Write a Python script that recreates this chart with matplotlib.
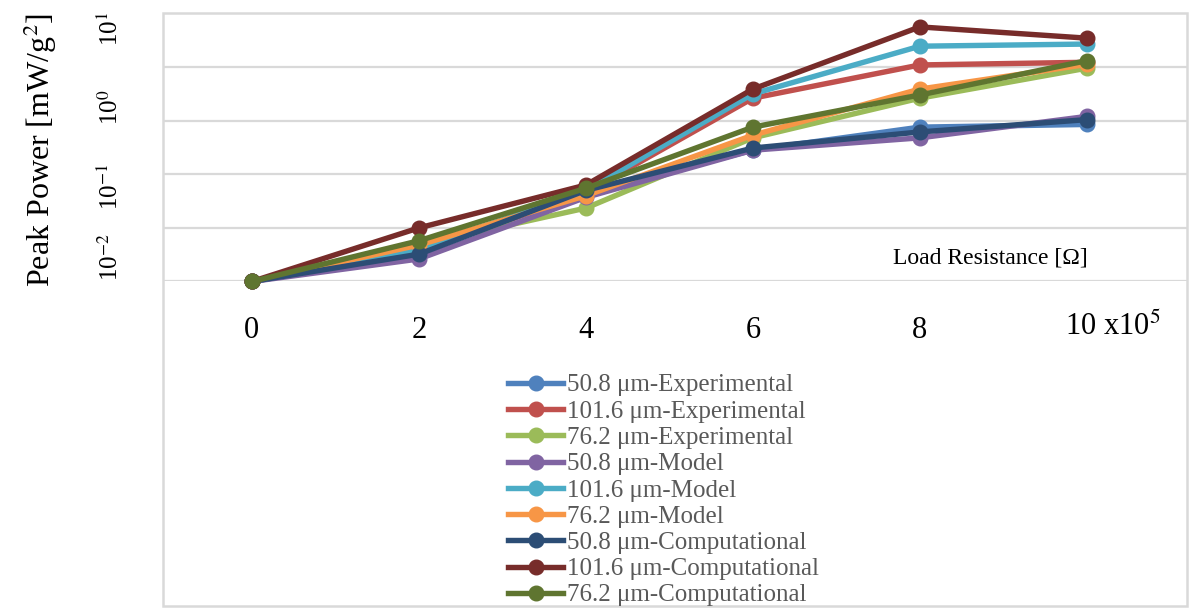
import numpy as np
import matplotlib
matplotlib.use("Agg")
import matplotlib.pyplot as plt
from matplotlib.patches import Rectangle
import matplotlib.transforms as mtransforms

plt.rcParams["mathtext.fontset"] = "stix"

# x positions (x10^5 ohm)
load_res = [0, 2, 4, 6, 8, 10]

# peak power in grid units (0 = 10^-2 gridline, one unit per gridline)
exp_508 = [0.0, 0.58, 1.64, 2.45, 2.88, 2.93]
exp_1016 = [0.0, 0.55, 1.66, 3.42, 4.04, 4.09]
exp_762 = [0.0, 0.68, 1.37, 2.68, 3.42, 3.98]
mod_508 = [0.0, 0.42, 1.57, 2.45, 2.68, 3.08]
mod_1016 = [0.0, 0.60, 1.70, 3.50, 4.39, 4.43]
mod_762 = [0.0, 0.68, 1.60, 2.73, 3.59, 4.05]
comp_508 = [0.0, 0.51, 1.70, 2.49, 2.79, 3.02]
comp_1016 = [0.0, 1.00, 1.80, 3.59, 4.75, 4.54]
comp_762 = [0.0, 0.76, 1.74, 2.88, 3.48, 4.12]

labels = ["50.8 μm-Experimental", "101.6 μm-Experimental", "76.2 μm-Experimental",
          "50.8 μm-Model", "101.6 μm-Model", "76.2 μm-Model",
          "50.8 μm-Computational", "101.6 μm-Computational", "76.2 μm-Computational"]
series = [exp_508, exp_1016, exp_762, mod_508, mod_1016, mod_762, comp_508, comp_1016, comp_762]
colors = ["#4F81BD", "#C0504D", "#9BBB59", "#8064A2", "#4BACC6", "#F79646",
          "#2C4D75", "#772C2A", "#5F7530"]

xtick_labels = ["0", "2", "4", "6", "8", ""]
ytick_labels = ["10$^{-2}$", "10$^{-1}$", "10$^{0}$", "10$^{1}$"]
ytick_pos = [257, 187, 107, 29]  # px from top, they don't sit on the gridlines

W, H = 1199, 609
fig = plt.figure(figsize=(W / 100, H / 100), dpi=100)
serif = "Liberation Serif"

# plot area
ax = fig.add_axes([163 / W, 1 - 281.5 / H, (1187 - 163) / W, (281.5 - 13.5) / H])
ax.set_xlim(-1.065, 11.2)
ax.set_ylim(0, 5)
for s in ax.spines.values():
    s.set_visible(False)
ax.set_yticks([0, 1, 2, 3, 4])
ax.yaxis.grid(True, color="#d9d9d9", lw=1.6)
ax.set_axisbelow(True)
ax.tick_params(left=False, bottom=False, labelleft=False)
ax.set_xticks(load_res)
ax.set_xticklabels(xtick_labels, fontsize=22, family=serif)
ax.tick_params(axis="x", pad=21)

# last label sticks out to the right with its multiplier
trans = mtransforms.blended_transform_factory(ax.transData, fig.transFigure)
ax.text(9.74, 1 - 327 / H, "10 x10$^{5}$", transform=trans, fontsize=22, family=serif,
        ha="left", va="center")

for y, c, l in zip(series, colors, labels):
    ax.plot(load_res, y, color=c, lw=3.9, marker="o", ms=10.5, label=l, clip_on=False)

ax.text(8.85, 0.44, "Load Resistance [Ω]", fontsize=17, family=serif, ha="center", va="center")

# outer chart box
fig.patches.append(Rectangle((163 / W, 1 - 606 / H), (1187 - 163) / W, (606 - 13) / H,
                             transform=fig.transFigure, fill=False, ec="#d9d9d9", lw=1.8))

fig.text(40 / W, 1 - 150 / H, "Peak Power [mW/g$^{2}$]", rotation=90, fontsize=23,
         family=serif, ha="center", va="center")
for t, p in zip(ytick_labels, ytick_pos):
    fig.text(110 / W, 1 - p / H, t, rotation=90, fontsize=18, family=serif,
             ha="center", va="center")

handles, labs = ax.get_legend_handles_labels()
leg = fig.legend(handles, labs, loc="upper left", bbox_to_anchor=(508 / W, 1 - 374 / H),
                 frameon=False, prop={"family": serif, "size": 18}, handlelength=2.2,
                 handletextpad=0.15, labelspacing=0.15, borderpad=0, borderaxespad=0)
for t in leg.get_texts():
    t.set_color("#595959")

fig.savefig("out.png", dpi=100)
